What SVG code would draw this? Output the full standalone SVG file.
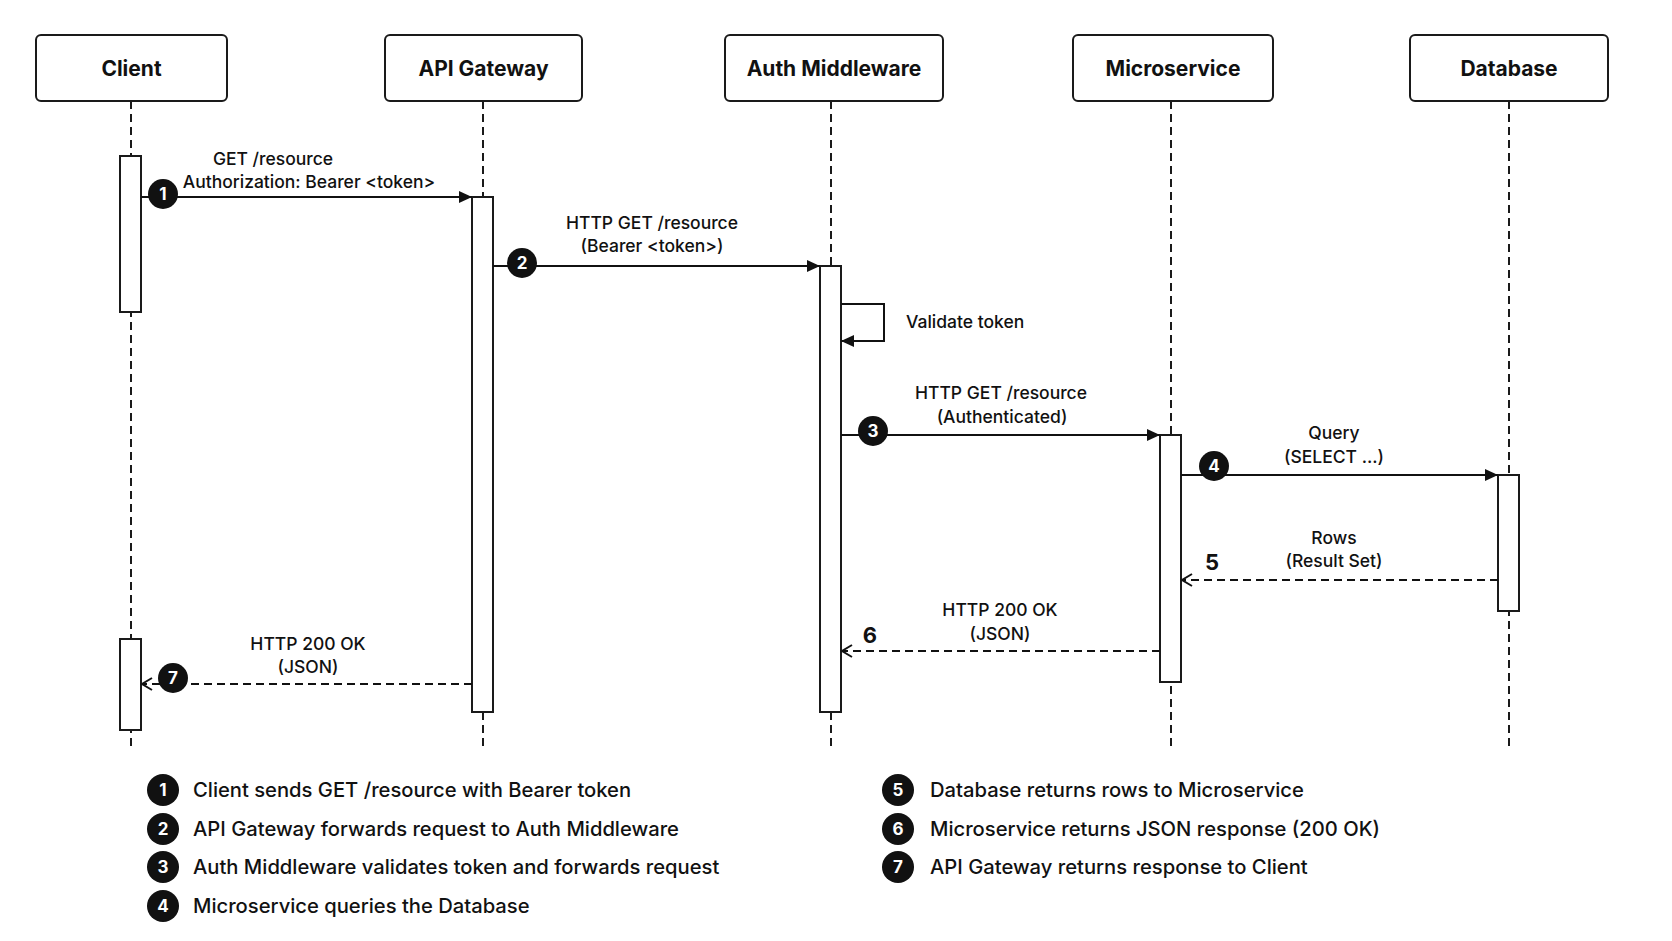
<svg xmlns="http://www.w3.org/2000/svg" width="1672" height="941" viewBox="0 0 1672 941">
<defs>
<style>
text{font-family:Inter,"Liberation Sans",Arial,sans-serif;fill:#111}
.box{fill:#fff;stroke:#1a1a1a;stroke-width:2}
.title{font-size:21px;font-weight:700;text-anchor:middle}
.life{stroke:#1a1a1a;stroke-width:2;stroke-dasharray:8 5;fill:none}
.act{fill:#fff;stroke:#1a1a1a;stroke-width:2}
.msg{stroke:#111;stroke-width:2;fill:none}
.ret{stroke:#111;stroke-width:2;fill:none;stroke-dasharray:8 5}
.lbl{font-size:17.5px;font-weight:500;text-anchor:middle}
.badge{fill:#111}
.bnum{font-size:17px;font-weight:700;fill:#fff;text-anchor:middle}
.big{font-size:22px;font-weight:700;text-anchor:middle}
.leg{font-size:20.2px;font-weight:500}
</style>
<marker id="solid" markerWidth="14" markerHeight="12" refX="13" refY="6" orient="auto" markerUnits="userSpaceOnUse">
<path d="M0,0 L13,6 L0,12 Z" fill="#111"/>
</marker>
<marker id="open" markerWidth="14" markerHeight="14" refX="11" refY="7" orient="auto" markerUnits="userSpaceOnUse">
<path d="M1,1 L11,7 L1,13" fill="none" stroke="#111" stroke-width="2"/>
</marker>
</defs>
<rect width="1672" height="941" fill="#fff"/>

<g id="lifelines">
<line class="life" x1="131" y1="101" x2="131" y2="750"/>
<line class="life" x1="483" y1="101" x2="483" y2="750"/>
<line class="life" x1="831" y1="101" x2="831" y2="750"/>
<line class="life" x1="1171" y1="101" x2="1171" y2="750"/>
<line class="life" x1="1509" y1="101" x2="1509" y2="750"/>
</g>

<g id="client">
<rect class="box" x="36" y="35" width="191" height="66" rx="5"/>
<text class="title" x="131.5" y="75.5">Client</text>
<rect class="act" x="120" y="156" width="21" height="156"/>
<rect class="act" x="120" y="639" width="21" height="91"/>
</g>
<g id="api-gateway">
<rect class="box" x="385" y="35" width="197" height="66" rx="5"/>
<text class="title" x="483.5" y="75.5">API Gateway</text>
<rect class="act" x="472" y="197" width="21" height="515"/>
</g>
<g id="auth-middleware">
<rect class="box" x="725" y="35" width="218" height="66" rx="5"/>
<text class="title" x="834" y="75.5">Auth Middleware</text>
<rect class="act" x="820" y="266" width="21" height="446"/>
</g>
<g id="microservice">
<rect class="box" x="1073" y="35" width="200" height="66" rx="5"/>
<text class="title" x="1173" y="75.5">Microservice</text>
<rect class="act" x="1160" y="435" width="21" height="247"/>
</g>
<g id="database">
<rect class="box" x="1410" y="35" width="198" height="66" rx="5"/>
<text class="title" x="1509" y="75.5">Database</text>
<rect class="act" x="1498" y="475" width="21" height="136"/>
</g>

<g id="connectors">
<line class="msg" x1="141" y1="197" x2="472" y2="197" marker-end="url(#solid)"/>
<line class="msg" x1="493" y1="266" x2="820" y2="266" marker-end="url(#solid)"/>
<polyline class="msg" points="841,304 884,304 884,341 841,341" marker-end="url(#solid)"/>
<line class="msg" x1="841" y1="435" x2="1160" y2="435" marker-end="url(#solid)"/>
<line class="msg" x1="1181" y1="475" x2="1498" y2="475" marker-end="url(#solid)"/>
<line class="ret" x1="1498" y1="580" x2="1182" y2="580" marker-end="url(#open)"/>
<line class="ret" x1="1160" y1="651" x2="842" y2="651" marker-end="url(#open)"/>
<line class="ret" x1="472" y1="684" x2="142" y2="684" marker-end="url(#open)"/>
</g>

<g id="labels">
<text class="lbl" x="273" y="165">GET /resource</text>
<text class="lbl" x="309" y="188">Authorization: Bearer &lt;token&gt;</text>
<text class="lbl" x="652" y="229">HTTP GET /resource</text>
<text class="lbl" x="652" y="252">(Bearer &lt;token&gt;)</text>
<text class="lbl" x="906" y="328" style="text-anchor:start">Validate token</text>
<text class="lbl" x="1001" y="399">HTTP GET /resource</text>
<text class="lbl" x="1002" y="423">(Authenticated)</text>
<text class="lbl" x="1334" y="439">Query</text>
<text class="lbl" x="1334" y="463">(SELECT ...)</text>
<text class="lbl" x="1334" y="544">Rows</text>
<text class="lbl" x="1334" y="567">(Result Set)</text>
<text class="lbl" x="1000" y="616">HTTP 200 OK</text>
<text class="lbl" x="1000" y="640">(JSON)</text>
<text class="lbl" x="308" y="650">HTTP 200 OK</text>
<text class="lbl" x="308" y="673">(JSON)</text>
<text class="big" x="1212" y="570">5</text>
<text class="big" x="870" y="643">6</text>
</g>

<g id="badges">
<circle class="badge" cx="163" cy="194" r="15"/><text class="bnum" x="163" y="200">1</text>
<circle class="badge" cx="522" cy="263" r="15"/><text class="bnum" x="522" y="269">2</text>
<circle class="badge" cx="873" cy="431" r="15"/><text class="bnum" x="873" y="437">3</text>
<circle class="badge" cx="1214" cy="466" r="15"/><text class="bnum" x="1214" y="472">4</text>
<circle class="badge" cx="173" cy="678" r="15"/><text class="bnum" x="173" y="684">7</text>
</g>

<g id="legend">
<circle class="badge" cx="163" cy="790" r="16"/><text class="bnum" x="163" y="796">1</text>
<text class="leg" x="193" y="797">Client sends GET /resource with Bearer token</text>
<circle class="badge" cx="163" cy="829" r="16"/><text class="bnum" x="163" y="835">2</text>
<text class="leg" x="193" y="836">API Gateway forwards request to Auth Middleware</text>
<circle class="badge" cx="163" cy="867" r="16"/><text class="bnum" x="163" y="873">3</text>
<text class="leg" x="193" y="874">Auth Middleware validates token and forwards request</text>
<circle class="badge" cx="163" cy="906" r="16"/><text class="bnum" x="163" y="912">4</text>
<text class="leg" x="193" y="913">Microservice queries the Database</text>
<circle class="badge" cx="898" cy="790" r="16"/><text class="bnum" x="898" y="796">5</text>
<text class="leg" x="930" y="797">Database returns rows to Microservice</text>
<circle class="badge" cx="898" cy="829" r="16"/><text class="bnum" x="898" y="835">6</text>
<text class="leg" x="930" y="836">Microservice returns JSON response (200 OK)</text>
<circle class="badge" cx="898" cy="867" r="16"/><text class="bnum" x="898" y="873">7</text>
<text class="leg" x="930" y="874">API Gateway returns response to Client</text>
</g>
</svg>
